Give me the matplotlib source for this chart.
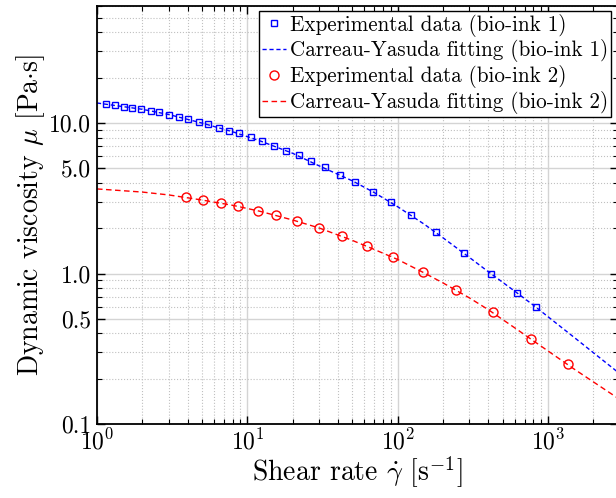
import numpy as np
import matplotlib
matplotlib.use("Agg")
import matplotlib.pyplot as plt
from matplotlib import ticker

plt.rcParams['font.family'] = 'serif'
plt.rcParams['font.serif'] = ['cmr10']
plt.rcParams['mathtext.fontset'] = 'cm'
plt.rcParams['axes.unicode_minus'] = False
plt.rcParams['axes.formatter.use_mathtext'] = True

# ---- bio-ink 1 : experimental points ----
rate_1 = [1.14, 1.31, 1.51, 1.72, 1.96, 2.27, 2.59, 3.02, 3.52, 4.04, 4.74, 5.50,
          6.47, 7.59, 8.80, 10.5, 12.6, 15.0, 18.1, 21.9, 26.7, 32.8, 41.3, 52.0,
          68.5, 89.8, 123, 179, 277, 419, 621, 832]
visc_1 = [13.4, 13.1, 12.8, 12.6, 12.4, 12.0, 11.8, 11.4, 10.9, 10.6, 10.2, 9.8,
          9.31, 8.89, 8.59, 8.08, 7.59, 7.06, 6.54, 6.13, 5.62, 5.10, 4.54, 4.06,
          3.48, 2.97, 2.45, 1.88, 1.36, 0.997, 0.745, 0.598]

# ---- bio-ink 2 : experimental points ----
rate_2 = [3.90, 5.06, 6.64, 8.66, 11.7, 15.6, 21.5, 29.9, 42.8, 62.1, 93.6, 147,
          246, 430, 774, 1360]
visc_2 = [3.21, 3.08, 2.93, 2.81, 2.61, 2.45, 2.23, 2.01, 1.77, 1.52, 1.28, 1.02,
          0.777, 0.552, 0.366, 0.250]

# ---- fitted curves ----
fit_rate = [1, 2, 3, 5, 8, 12, 20, 30, 50, 70, 100, 150, 200, 300, 400, 600, 800, 1500, 2900]
fit_visc_1 = [13.6, 12.35, 11.4, 10.0, 8.75, 7.65, 6.3, 5.2, 4.13, 3.45, 2.78, 2.13,
              1.73, 1.28, 1.03, 0.764, 0.616, 0.375, 0.222]
fit_visc_2 = [3.65, 3.48, 3.33, 3.08, 2.84, 2.60, 2.27, 2.01, 1.66, 1.445, 1.24, 1.01,
              0.867, 0.689, 0.576, 0.436, 0.357, 0.231, 0.149]

y_ticks = [0.1, 0.5, 1.0, 5.0, 10.0]

fig = plt.figure(figsize=(6.16, 4.98), dpi=100)
ax = fig.add_axes([97 / 616, 74 / 498, 1.0 - 97 / 616 + 1.5 / 616, (492 - 74) / 498])

ax.plot(rate_1, visc_1, linestyle='none', marker='s', markersize=5,
        markerfacecolor='none', markeredgecolor='blue', markeredgewidth=1.0,
        label='Experimental data (bio-ink 1)')
ax.plot(fit_rate, fit_visc_1, color='blue', lw=1.0, dashes=(3, 2),
        label='Carreau-Yasuda fitting (bio-ink 1)')
ax.plot(rate_2, visc_2, linestyle='none', marker='o', markersize=6.5,
        markerfacecolor='none', markeredgecolor='red', markeredgewidth=1.0,
        label='Experimental data (bio-ink 2)')
ax.plot(fit_rate, fit_visc_2, color='red', lw=1.0, dashes=(4, 2.5),
        label='Carreau-Yasuda fitting (bio-ink 2)')

ax.set_xscale('log')
ax.set_yscale('log')
ax.set_xlim(1, 2900)
ax.set_ylim(0.1, 60)

ax.set_yticks(y_ticks)
ax.yaxis.set_major_formatter(ticker.FormatStrFormatter('%.1f'))
ax.yaxis.set_minor_locator(ticker.LogLocator(base=10, subs=np.arange(2, 10)))
ax.yaxis.set_minor_formatter(ticker.NullFormatter())
ax.xaxis.set_minor_locator(ticker.LogLocator(base=10, subs=np.arange(2, 10)))

ax.grid(True, which='major', color='#d4d4d4', linestyle='-', linewidth=1.0)
ax.grid(True, which='minor', color='#c0c0c0', linestyle=':', linewidth=0.8)
ax.set_axisbelow(True)

ax.tick_params(which='both', direction='in', top=True, right=True, labelsize=17)
ax.tick_params(which='major', length=6, width=1.0, pad=4)
ax.tick_params(which='minor', length=3.5, width=0.8)
for s in ax.spines.values():
    s.set_linewidth(1.3)

ax.set_xlabel(r'Shear rate $\dot{\gamma}$ [s$^{-1}$]', fontsize=20, labelpad=0)
ax.set_ylabel(r'Dynamic viscosity $\mu$ [Pa$\cdot$s]', fontsize=20, labelpad=2)

# legend box: top-right corner placed just inside the axes
leg = ax.legend(loc='upper right', bbox_to_anchor=(611 / 616, 1 - 11 / 498),
                bbox_transform=fig.transFigure, borderaxespad=0,
                fontsize=15.2, fancybox=False, framealpha=1,
                edgecolor='black', handlelength=1.15, labelspacing=0.14,
                borderpad=0.12, handletextpad=0.2)
leg.get_frame().set_linewidth(1.0)

fig.savefig('out.png', dpi=100)
